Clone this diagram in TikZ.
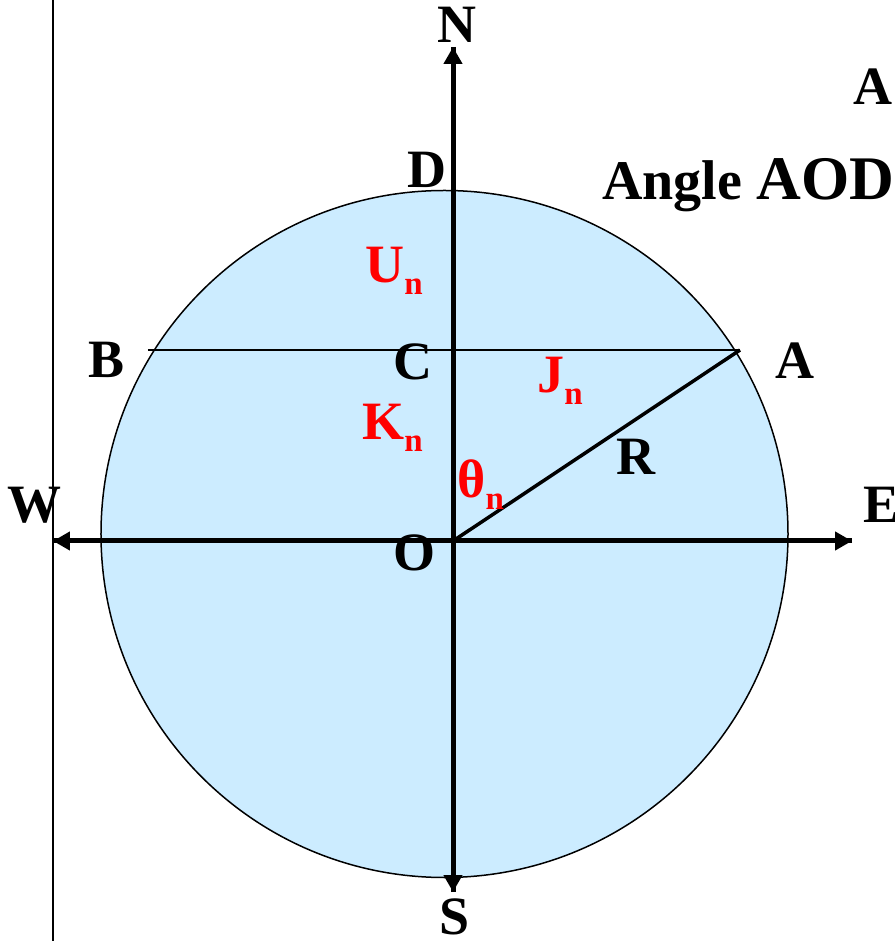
\documentclass[tikz,border=0pt]{standalone}
\usepackage{fontspec}
\setmainfont{Liberation Serif}
\usetikzlibrary{arrows.meta}
\definecolor{disc}{HTML}{CCECFF}
\definecolor{qred}{HTML}{FF0000}
\newcommand{\subn}[1]{#1\raisebox{-6pt}{\fontsize{16.5}{18}\selectfont n}}
\tikzset{every node/.style={font=\bfseries\fontsize{27}{30}\selectfont,inner sep=0pt},
 pole/.style={text=black},
 qty/.style={text=qred,anchor=base west},
 axis/.style={-{Triangle[length=8.5pt,width=9pt]},line width=2.5pt},
 thin/.style={line width=.75pt}}

\begin{document}
\begin{tikzpicture}[x=.5pt,y=.5pt]

\path[use as bounding box] (-453,-400) rectangle (441,541);
\coordinate (O) at (0,0);
\coordinate (A) at (287,191);
\coordinate (B) at (-305,191);
\filldraw[fill=disc,thin] (-8.5,7) circle (343.5);
\draw[thin] (-400,541)--(-400,-400);
\draw[thin] (B)--(A);
\draw[line width=1.75pt] (O)--(A);
\coordinate (n) at (0,494);
\coordinate (s) at (0,-351);
\coordinate (e) at (399,0);
\coordinate (w) at (-400,0);
\draw[axis] (s)--(n);
\draw[axis] (n)--(s);
\draw[axis] (w)--(e);
\draw[axis] (e)--(w);
\node[pole] (ln) at (4,516) {N};
\node[pole] (ls) at (2,-376) {S};
\node[pole,anchor=west] (le) at (410,36) {E};
\node[pole] (lw) at (-418,36) {W};
\node[pole] (ld) at (-26,371) {D};
\node[pole] (lb) at (-346,181) {B};
\node[pole] (la) at (342,180) {A};
\node[pole,anchor=base west] (lc) at (-60,161) {C};
\node[pole,anchor=base west] (lo) at (-60,-30) {O};
\node[pole] (lr) at (183,84) {R};
\node[qty] (u) at (-88,258) {\subn{U}};
\node[qty] (k) at (-91,101) {\subn{K}};
\node[qty] (j) at (84,148) {\subn{J}};
\node[qty] (t) at (4,43) {\subn{θ}};
\node[anchor=base west] (title) at (149,341) {\fontsize{28}{31}\selectfont Angle {\fontsize{31}{34}\selectfont AOD}};
\node[anchor=base west] (cut) at (400,436) {A};

\end{tikzpicture}
\end{document}
